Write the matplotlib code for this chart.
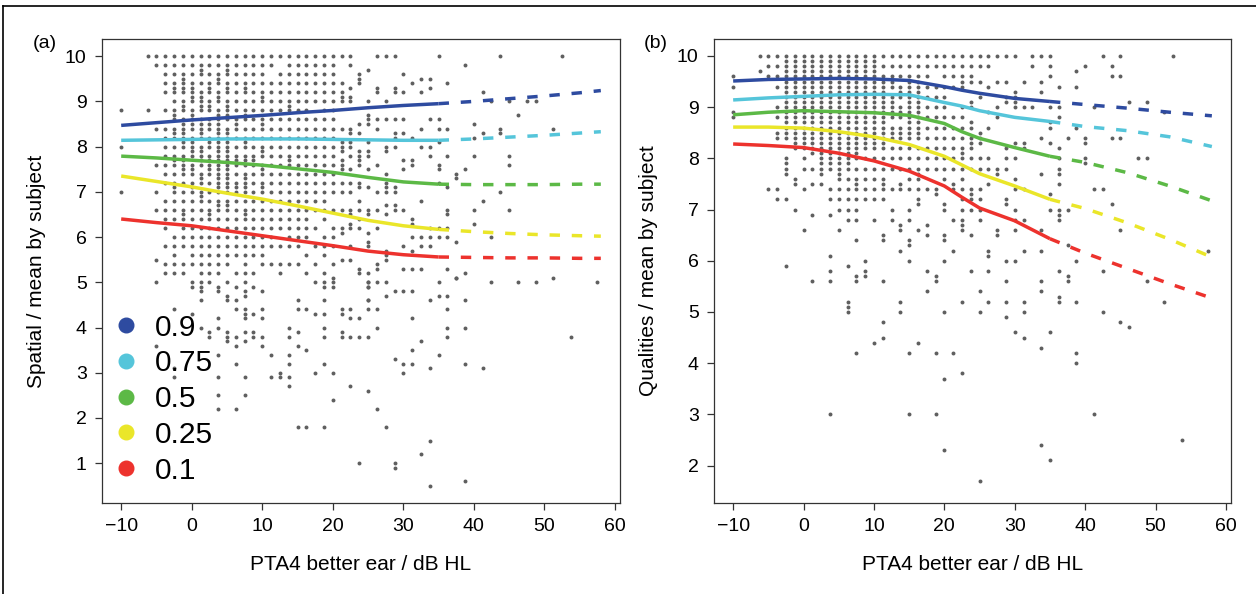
import matplotlib
matplotlib.use("Agg")
import matplotlib.pyplot as plt
from matplotlib.lines import Line2D

plt.rcParams['font.family'] = ['Liberation Sans', 'DejaVu Sans']

# ---- scatter data: one string of y values (tenths) per PTA4 column ----
spatial_x = [-10, -6.25, -5, -3.75, -2.5, -1.25, 0, 1.25, 2.5, 3.75, 5, 6.25, 7.5, 8.75,
             10, 11.25, 12.5, 13.75, 15, 16.25, 17.5, 18.75, 20, 21.25, 22.5, 23.75, 25,
             26.25, 27.5, 28.75, 30, 31.25, 32.5, 33.75, 35, 36.25, 37.5, 38.75, 40,
             41.25, 42.5, 43.75, 45, 46.25, 47.5, 48.75, 51.25, 52.5, 53.75, 57.5]
spatial_y = [
    "88 80 70",
    "100 88",
    "100 98 84 76 70 66 55 50 36",
    "100 98 96 94 92 88 84 82 80 78 76 74 72 68 66 64 62 58 54 52",
    "100 98 96 94 93 92 90 88 87 86 84 83 82 80 78 77 76 74 72 71 70 68 66 64 60 58 56 54 52 44 31 29",
    "100 98 96 95 94 93 92 90 89 88 86 85 84 83 82 81 80 78 77 76 75 74 72 70 68 66 65 64 62 60 58 54 52",
    "100 98 96 94 93 92 91 90 88 87 86 85 84 82 81 80 79 78 76 75 74 72 71 70 68 66 64 62 60 58 56 54 50 49 43",
    "100 98 97 96 94 92 91 90 89 88 86 85 84 83 82 80 79 78 77 76 74 73 72 70 69 68 66 64 62 60 58 56 54 52 50 49 48 46 40",
    "100 98 96 94 93 92 90 89 88 86 85 84 82 81 80 78 77 76 75 74 72 70 68 66 65 64 62 60 58 56 54 52 50 39 38",
    "100 98 96 95 94 92 91 90 88 87 86 85 84 83 82 81 80 79 78 77 76 75 74 73 72 71 70 68 67 66 64 62 60 58 56 54 52 49 48 42 40 34 29 25 22",
    "100 98 97 96 94 93 92 90 89 88 87 86 84 83 82 81 80 79 78 77 76 75 74 73 72 71 70 68 67 66 64 62 60 58 56 54 50 47 46 39 38 37",
    "100 98 96 94 92 90 88 86 85 84 82 80 78 77 76 74 72 71 70 68 66 64 62 60 58 56 52 49 46 44 38 36 32 22",
    "100 98 96 94 93 92 90 88 87 86 84 82 81 80 78 77 76 74 73 72 71 70 68 66 65 64 62 60 58 56 54 52 50 48 47 44 43 42 39 37 29 25",
    "100 98 96 94 92 90 88 86 84 82 80 78 77 76 74 72 70 68 66 64 62 60 58 56 52 49 43 39 38",
    "100 98 96 94 92 91 90 88 86 85 84 82 80 79 78 76 75 74 72 71 70 68 66 64 62 60 58 56 54 48 44 42 38 36",
    "100 98 94 92 90 88 86 84 82 80 78 76 74 72 70 68 66 64 62 60 58 54 34 29",
    "100 96 94 92 90 88 86 84 82 80 78 76 74 72 70 68 66 64 62 58 54 52 30 29",
    "100 98 96 94 92 90 89 88 86 84 82 80 78 77 76 74 72 70 68 66 64 62 60 58 54 40 38 34 32 29 27",
    "100 98 96 94 92 90 88 86 84 82 80 78 76 74 72 70 68 66 64 62 60 58 54 46 44 39 36 18",
    "100 98 96 94 92 90 88 86 84 82 80 78 76 74 72 70 68 66 64 62 60 56 52 44 35 18",
    "100 98 96 94 92 90 86 84 82 80 78 76 74 72 70 68 66 62 58 54 50 43 30",
    "100 98 96 94 92 90 88 86 84 82 80 78 76 74 72 70 68 66 64 60 58 56 52 50 49 46 43 40 38 32 18",
    "100 98 96 94 92 90 88 86 84 82 80 78 76 74 72 70 66 62 60 58 54 51 50 49 30 24",
    "100 94 92 91 90 84 81 80 79 77 76 75 72 70 66 62 61 55 44 43 39 38",
    "100 98 93 91 90 84 83 81 80 78 75 72 70 66 65 63 62 58 55 44 42 38 27",
    "96 95 94 85 83 79 78 77 76 72 71 68 66 64 62 53 52 42 38 10",
    "97 90 87 86 85 81 79 78 75 71 66 65 61 59 58 52 50 49 46 50 49 46 44 38 26",
    "100 93 92 86 84 76 70 66 62 54 53 50 44 40 22",
    "100 90 86 80 79 74 72 71 70 67 65 57 56 55 47 50 18",
    "100 93 92 86 83 82 80 71 70 67 66 48 33 10 9",
    "96 92 86 83 77 75 66 58 53 48 32 30",
    "94 82 77 76 64 63 60 57 53 48 42 35 32",
    "95 92 84 80 68 60 58 53 37 12",
    "95 93 86 80 78 62 60 58 46 31 15 5",
    "100 86 84 81 76 75 72 62 60 50 47 34",
    "94 84 78 71 66 65 62 60 53 47 44 40 38",
    "74 73 59 51 51",
    "98 75 52 46 40 32 6",
    "85 82 78 66 63",
    "92 83 68 31",
    "90 60 50",
    "100 84 83 70",
    "90 78 76 66",
    "87 50",
    "90",
    "90 50",
    "84 51",
    "100",
    "38",
    "50",
]

quality_x = [-10, -6.25, -5, -3.75, -2.5, -1.25, 0, 1.25, 2.5, 3.75, 5, 6.25, 7.5, 8.75,
             10, 11.25, 12.5, 13.75, 15, 16.25, 17.5, 18.75, 20, 21.25, 22.5, 23.75, 25,
             26.25, 27.5, 28.75, 30, 31.25, 32.5, 33.75, 35, 36.25, 37.5, 38.75, 40,
             41.25, 42.5, 43.75, 45, 46.25, 47.5, 48.75, 51.25, 52.5, 53.75, 57.5]
quality_y = [
    "96 94 89 88",
    "100 97",
    "100 98 96 74",
    "100 98 96 94 90 88 85 84 74 72",
    "100 99 98 97 96 95 94 93 92 91 90 89 88 87 86 85 84 80 79 78 77 72 59",
    "100 99 98 97 96 95 94 93 92 91 90 89 88 87 86 85 84 83 82 76 75 70",
    "100 99 98 97 96 95 94 93 92 91 90 89 88 87 86 85 84 83 82 80 78 74 66",
    "100 99 98 97 96 95 94 93 92 91 90 89 88 87 86 85 84 83 82 81 78 75 69 56",
    "100 99 98 97 96 95 94 93 92 91 90 89 88 87 86 85 84 83 82 81 80 79 78 77 75",
    "100 99 98 97 96 95 94 93 92 91 90 89 88 87 86 85 84 83 82 81 80 79 78 74 72 69 61 58 56 30",
    "100 99 98 97 96 95 94 93 92 91 90 89 88 87 86 85 84 83 82 81 80 79 78 77 76 74 72 70 66",
    "100 99 98 97 96 95 94 93 92 91 90 89 88 87 86 85 84 83 82 81 80 79 78 76 74 72 70 68 59 52 51 50",
    "100 99 98 97 96 95 94 93 92 91 90 89 88 87 86 85 84 83 82 81 80 78 76 75 74 72 70 68 64 57 56 42",
    "100 99 98 97 96 95 94 93 92 91 90 89 88 87 86 85 84 83 82 80 78 76 74 72 60 58 57",
    "100 99 98 97 96 95 94 93 92 91 90 89 88 87 86 85 84 83 82 80 78 76 74 72 68 44",
    "100 98 96 95 94 93 92 91 90 89 88 87 86 85 84 83 82 80 78 76 75 74 72 65 64 56 48 45",
    "100 98 96 95 94 92 91 90 89 88 86 85 84 82 80 78 74 70 68",
    "100 98 96 94 93 92 90 89 88 86 85 84 82 80 78 75 74 67 66 62 52 50",
    "100 98 96 95 94 93 92 91 90 89 88 87 86 85 84 82 80 78 76 74 70 68 64 63 60 42 30",
    "100 98 96 95 94 93 92 91 90 89 88 87 86 85 84 82 80 78 77 76 74 72 71 66 44",
    "100 98 96 94 92 90 88 86 84 82 80 78 74 67 65 58 54",
    "100 98 94 92 90 88 86 84 82 80 78 74 73 57 56 42 30",
    "100 98 96 94 92 90 88 86 84 82 80 78 76 71 70 65 64 60 50 37 23",
    "100 98 96 94 88 86 84 82 80 78 75 74 68 62 42",
    "100 98 96 95 94 90 88 86 84 82 81 80 78 76 74 72 70 68 67 66 52 38",
    "100 98 96 95 91 90 87 86 84 83 82 80 78 74 73 72 70 65 58",
    "100 98 95 92 85 84 83 80 78 74 72 70 68 54 50 17",
    "100 98 94 89 86 80 78 75 62 61 58 52",
    "100 95 90 88 78 77 66 65",
    "100 95 92 91 82 80 78 72 71 60 56 52 49",
    "100 93 92 91 90 83 80 76 74 70 68 66 60 46",
    "95 90 83 82 74 68 62 52 50 45",
    "100 98 90",
    "100 95 93 84 77 66 62 56 54 43 24",
    "100 98 96 90 87 86 83 73 70 46 21",
    "94 90 88 82 80 78 77 75 70 69 68 58 53 52",
    "84 70 63 57 56",
    "97 94 86 60 52 42 40",
    "98 84 83 80 79",
    "90 74 30",
    "100 74 58 50",
    "98 96 84 71",
    "100 96 84 66 48",
    "91 47",
    "80",
    "91 80 56",
    "89 52",
    "100",
    "25",
    "62",
]

# ---- quantile regression curves ----
quantiles = ["0.9", "0.75", "0.5", "0.25", "0.1"]
colors = ["#2E4BA0", "#55C5DA", "#5CB946", "#EAE629", "#ED322D"]

spatial_fit_x = [-10, -5, 0, 5, 10, 15, 20, 25, 30, 35]
spatial_fit = [
    [8.47, 8.53, 8.59, 8.64, 8.69, 8.75, 8.80, 8.86, 8.91, 8.95],
    [8.14, 8.15, 8.16, 8.17, 8.17, 8.17, 8.16, 8.15, 8.14, 8.14],
    [7.79, 7.75, 7.70, 7.65, 7.59, 7.51, 7.43, 7.32, 7.22, 7.17],
    [7.35, 7.23, 7.11, 6.97, 6.84, 6.69, 6.53, 6.37, 6.25, 6.17],
    [6.40, 6.32, 6.25, 6.14, 6.03, 5.92, 5.81, 5.69, 5.61, 5.56],
]
spatial_ext_x = [35, 40, 45, 50, 55, 58]
spatial_ext = [
    [8.95, 9.00, 9.06, 9.12, 9.19, 9.24],
    [8.14, 8.17, 8.21, 8.25, 8.30, 8.33],
    [7.17, 7.16, 7.16, 7.16, 7.17, 7.17],
    [6.17, 6.12, 6.08, 6.05, 6.03, 6.02],
    [5.56, 5.55, 5.54, 5.54, 5.53, 5.53],
]

quality_fit_x = [-10, -5, 0, 5, 10, 15, 20, 22.5, 25, 30, 35]
quality_fit = [
    [9.51, 9.54, 9.55, 9.56, 9.55, 9.52, 9.40, 9.33, 9.27, 9.17, 9.11],
    [9.14, 9.18, 9.21, 9.24, 9.25, 9.24, 9.09, 9.02, 8.93, 8.80, 8.72],
    [8.85, 8.90, 8.93, 8.91, 8.89, 8.84, 8.68, 8.52, 8.39, 8.21, 8.04],
    [8.61, 8.61, 8.59, 8.52, 8.42, 8.27, 8.04, 7.87, 7.70, 7.46, 7.20],
    [8.28, 8.25, 8.21, 8.10, 7.95, 7.75, 7.46, 7.24, 7.03, 6.78, 6.43],
]
quality_ext_x = [35, 40, 46, 52, 58]
quality_ext = [
    [9.11, 9.05, 8.98, 8.90, 8.83],
    [8.72, 8.62, 8.54, 8.42, 8.23],
    [8.04, 7.92, 7.72, 7.46, 7.17],
    [7.20, 7.02, 6.74, 6.42, 6.07],
    [6.43, 6.15, 5.85, 5.55, 5.27],
]


def expand(xs, cols):
    px, py = [], []
    for x, s in zip(xs, cols):
        for v in s.split():
            px.append(x)
            py.append(int(v) / 10.0)
    return px, py


def panel(ax, xs, cols, fx, fits, ex, exts, ylim, yticks, ylabel):
    px, py = expand(xs, cols)
    ax.scatter(px, py, s=8, c="#5f5f5f", linewidths=0, zorder=2)
    for yf, ye, c in zip(fits, exts, colors):
        ax.plot(fx, yf, color=c, lw=2.5, solid_capstyle="butt", zorder=3)
        ax.plot(ex, ye, color=c, lw=2.5, dashes=(3.0, 3.4), zorder=3)
    ax.set_xlim(-12.72, 60.72)
    ax.set_ylim(*ylim)
    ax.set_xticks([-10, 0, 10, 20, 30, 40, 50, 60])
    ax.set_yticks(yticks)
    ax.tick_params(direction="out", length=5, width=0.9, labelsize=14, pad=6, color="#333333")
    for sp in ax.spines.values():
        sp.set_linewidth(0.9)
        sp.set_color("#333333")
    ax.set_xlabel("PTA4 better ear / dB HL", fontsize=15)
    ax.set_ylabel(ylabel, fontsize=15)
    ax.xaxis.set_label_coords(0.5, -0.112)
    ax.yaxis.set_label_coords(-0.108, 0.5)


fig = plt.figure(figsize=(12.56, 5.94), dpi=100)
ax1 = fig.add_axes([102 / 1256, 91 / 594, 518 / 1256, 464 / 594])
ax2 = fig.add_axes([714 / 1256, 91 / 594, 517 / 1256, 464 / 594])

panel(ax1, spatial_x, spatial_y, spatial_fit_x, spatial_fit, spatial_ext_x, spatial_ext,
      (0.12, 10.38), range(1, 11), "Spatial / mean by subject")
panel(ax2, quality_x, quality_y, quality_fit_x, quality_fit, quality_ext_x, quality_ext,
      (1.27, 10.33), range(2, 11), "Qualities / mean by subject")

handles = [Line2D([], [], ls="none", marker="o", markersize=10.5, color=c) for c in colors]
ax1.legend(handles, quantiles, loc="lower left", bbox_to_anchor=(-0.005, 0.014), frameon=False,
           fontsize=21.5, labelspacing=0.26, handletextpad=0.45, handlelength=1.0, borderaxespad=0)

fig.text(45 / 1256, 1 - 43 / 594, "(a)", fontsize=14, ha="center", va="center")
fig.text(656 / 1256, 1 - 43 / 594, "(b)", fontsize=14, ha="center", va="center")

# outer frame of the figure
fig.add_artist(Line2D([3 / 1256, 3 / 1256], [0, 1 - 6 / 594], color="black", lw=1.2))
fig.add_artist(Line2D([3 / 1256, 1], [1 - 6 / 594, 1 - 6 / 594], color="black", lw=1.2))

fig.savefig("out.png", dpi=100)
